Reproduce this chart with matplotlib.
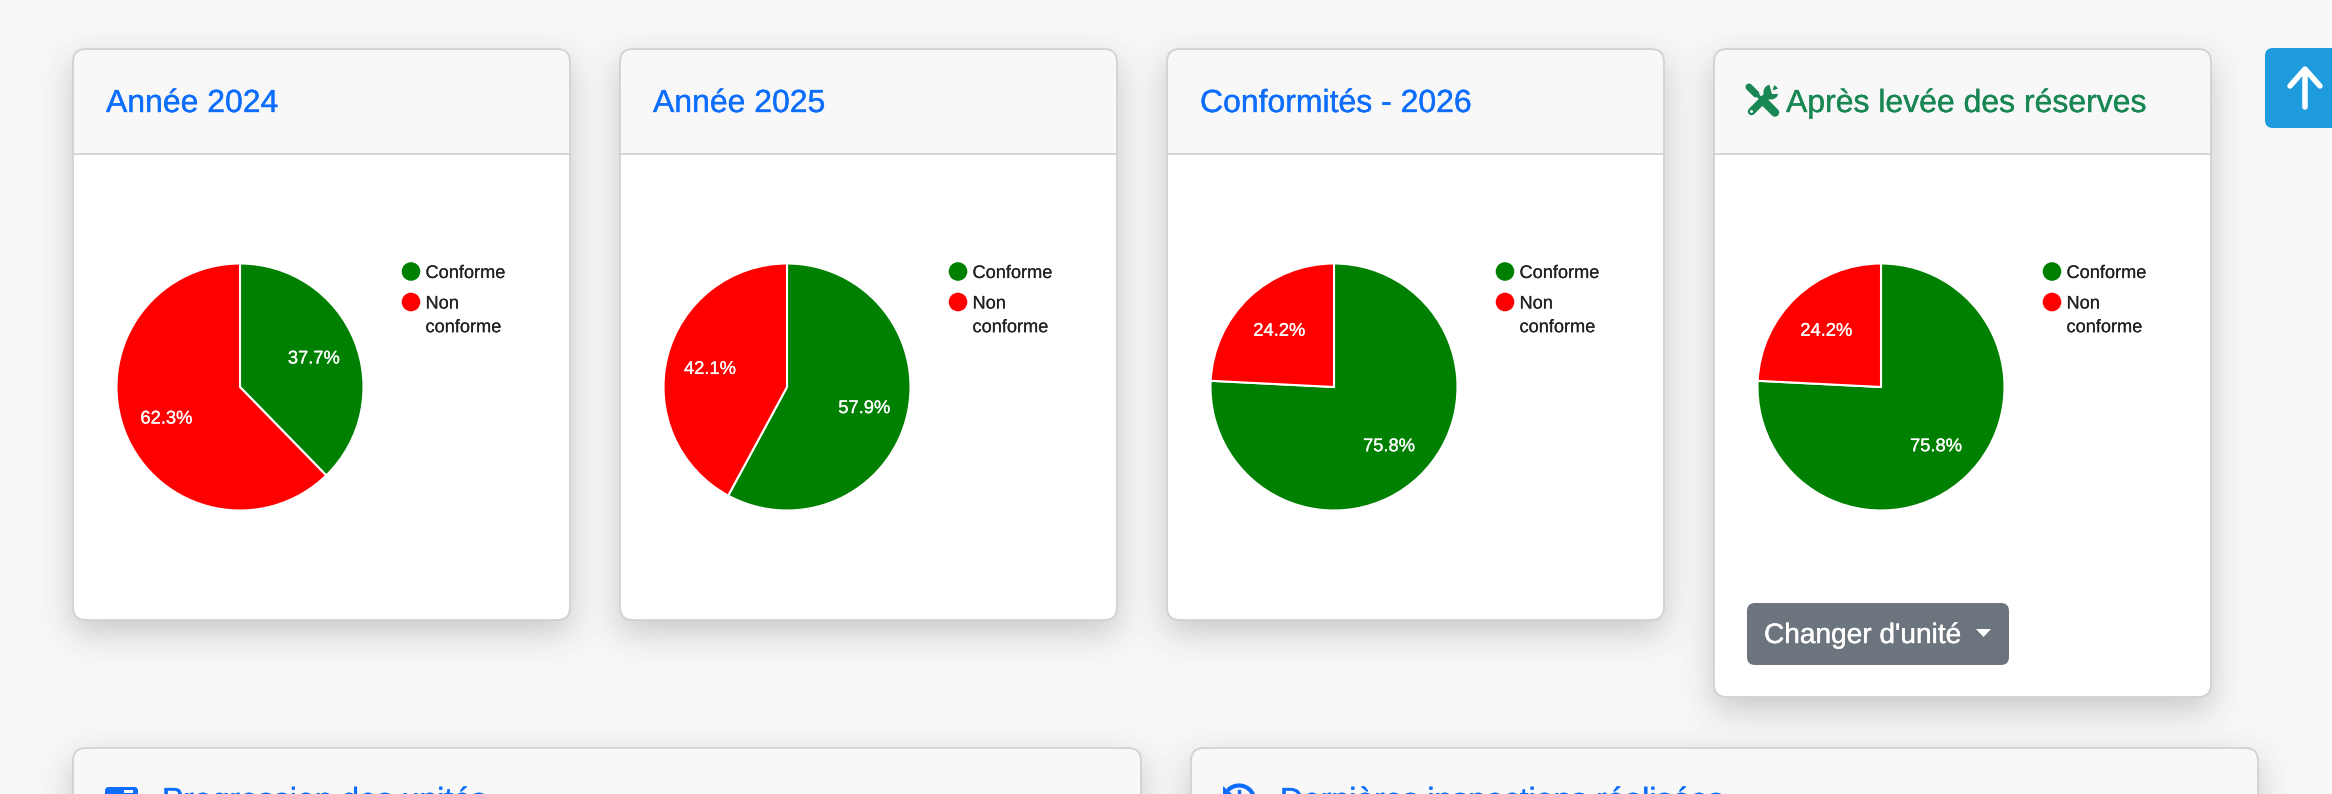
import numpy as np
import matplotlib
matplotlib.use("Agg")
import matplotlib.pyplot as plt
import matplotlib.patheffects as pe
from matplotlib.patches import FancyBboxPatch, Rectangle, Circle, Polygon

plt.rcParams['font.family'] = ['Liberation Sans', 'DejaVu Sans']

# ---- data
card_titles = ["Année 2024", "Année 2025", "Conformités - 2026", "Après levée des réserves"]
conforme_pct = [37.7, 57.9, 75.8, 75.8]
non_conforme_pct = [62.3, 42.1, 24.2, 24.2]
legend_labels = ["Conforme", "Non conforme"]
slice_colors = ["#008000", "#ff0000"]
button_label = "Changer d'unité"
lower_titles = ["Progression des unités", "Dernières inspections réalisées"]

W, H = 2332, 794
BG = 0xf7 / 255
HEAD = "#f8f8f8"
BLUE, GREEN = "#0d6efd", "#198754"
BORDER = "#d2d2d2"

card_lefts = [73, 620, 1167, 1714]
card_w = 497
card_top = 49
card_bottoms = [620, 620, 620, 697]
header_bottom = 154
lower_cards = [(73, 1141), (1191, 2258)]
lower_top = 748

fig = plt.figure(figsize=(W / 100, H / 100), dpi=100)
ax = fig.add_axes([0, 0, 1, 1])
ax.set_xlim(0, W)
ax.set_ylim(H, 0)
ax.axis("off")


def weight(color, w=0.25):
    return [pe.withStroke(linewidth=w, foreground=color)]


def gaussian_blur(a, sigma):
    r = int(3 * sigma)
    k = np.exp(-0.5 * (np.arange(-r, r + 1) / sigma) ** 2)
    k /= k.sum()
    a = np.apply_along_axis(lambda m: np.convolve(m, k, mode="same"), 0, a)
    a = np.apply_along_axis(lambda m: np.convolve(m, k, mode="same"), 1, a)
    return a


# page background with the soft card shadows
pad = 90
mask = np.zeros((H + 2 * pad, W + 2 * pad))
off_y = 12
for x0, b in zip(card_lefts, card_bottoms):
    mask[card_top + off_y + pad:b + off_y + pad, x0 + pad:x0 + card_w + pad] = 1
for x0, x1 in lower_cards:
    mask[lower_top + off_y + pad:, x0 + pad:x1 + pad] = 1
shadow = gaussian_blur(mask, 17)[pad:-pad, pad:-pad] * 0.2
bg_img = np.clip(BG * (1 - shadow), 0, 1)
ax.imshow(bg_img, cmap="gray", vmin=0, vmax=1, extent=(0, W, H, 0), aspect="auto",
          interpolation="bilinear", zorder=0)
ax.set_xlim(0, W)
ax.set_ylim(H, 0)


def card(x0, x1, y0, y1, hdr):
    body = FancyBboxPatch((x0, y0), x1 - x0, y1 - y0, boxstyle="round,pad=0,rounding_size=13",
                          fc="white", ec="none", zorder=1)
    ax.add_patch(body)
    head = Rectangle((x0, y0), x1 - x0, hdr - y0, fc=HEAD, ec="none", zorder=2)
    ax.add_patch(head)
    head.set_clip_path(body)
    ax.plot([x0, x1], [hdr, hdr], color=BORDER, lw=1.3, zorder=3, solid_capstyle="butt")
    ax.add_patch(FancyBboxPatch((x0, y0), x1 - x0, y1 - y0, boxstyle="round,pad=0,rounding_size=13",
                                fc="none", ec=BORDER, lw=1.3, zorder=4))


pie_r = 123.5
pie_cy = 387
for i, x0 in enumerate(card_lefts):
    card(x0, x0 + card_w, card_top, card_bottoms[i], header_bottom)
    title_x = x0 + 33 if i < 3 else x0 + 72
    tcolor = BLUE if i < 3 else GREEN
    ax.text(title_x, 112, card_titles[i], fontsize=23, va="baseline", ha="left",
            color=tcolor, zorder=5, path_effects=weight(tcolor))

    # pie
    cx = x0 + 167
    L = 1.05
    side = pie_r * L
    pax = fig.add_axes([(cx - side) / W, 1 - (pie_cy + side) / H, 2 * side / W, 2 * side / H])
    wedges, texts, autos = pax.pie([conforme_pct[i], non_conforme_pct[i]], colors=slice_colors,
                                   startangle=90, counterclock=False, autopct="%.1f%%",
                                   pctdistance=0.645, normalize=True,
                                   wedgeprops=dict(edgecolor="white", linewidth=1.5),
                                   textprops=dict(color="white", fontsize=13.2))
    for t in autos:
        t.set_va("center_baseline")
        t.set_path_effects(weight("white", 0.2))
    pax.set_xlim(-L, L)
    pax.set_ylim(-L, L)
    pax.axis("off")

    # legend
    lx = x0 + 338
    tx = x0 + 352.5
    ink = "#222222"
    ax.add_patch(Circle((lx, 271.5), 9.3, fc=slice_colors[0], ec="none", zorder=5))
    ax.text(tx, 271.5, legend_labels[0], fontsize=13.1, color=ink, va="center_baseline", zorder=5,
            path_effects=weight(ink, 0.1))
    ax.add_patch(Circle((lx, 302), 9.3, fc=slice_colors[1], ec="none", zorder=5))
    for j, word in enumerate(legend_labels[1].split(" ")):
        ax.text(tx, 302 + 23.7 * j, word, fontsize=13.1, color=ink, va="center_baseline", zorder=5,
                path_effects=weight(ink, 0.1))

# lower cards, cut by the bottom of the page
for x0, x1 in lower_cards:
    card(x0, x1, lower_top, H + 40, H + 30)
ax.text(162, 810, lower_titles[0], fontsize=23, color=BLUE, va="baseline", zorder=5,
        path_effects=weight(BLUE))
ax.text(1280, 810, lower_titles[1], fontsize=23, color=BLUE, va="baseline", zorder=5,
        path_effects=weight(BLUE))
ax.add_patch(FancyBboxPatch((105, 787), 33, 30, boxstyle="round,pad=0,rounding_size=4", fc=BLUE, ec="none", zorder=5))
ax.add_patch(Rectangle((124, 790), 9, 2.5, fc="white", ec="none", zorder=6))
ax.add_patch(Circle((1239, 801), 15.5, fc="none", ec=BLUE, lw=3, zorder=5))
ax.add_patch(Rectangle((1221, 788), 6, 9, fc=HEAD, ec="none", zorder=5.5))
ax.add_patch(Polygon([(1223, 786), (1232, 794), (1223, 798)], fc=BLUE, ec="none", zorder=6))
ax.plot([1239, 1239], [791, 794], color=BLUE, lw=2.4, zorder=6)

# dropdown button
ax.add_patch(FancyBboxPatch((1747, 603), 262, 62, boxstyle="round,pad=0,rounding_size=8",
                            fc="#6c757d", ec="none", zorder=5))
ax.text(1764, 643, button_label, fontsize=20.2, color="white", va="baseline", zorder=6,
        path_effects=weight("white", 0.3))
ax.add_patch(Polygon([(1976, 629), (1991, 629), (1983.5, 637)], fc="white", ec="none", zorder=6))

# tools icon next to the 4th title
px = 0.72
ax.plot([1752, 1776], [90, 113], color=GREEN, lw=3.5 * px, solid_capstyle="butt", zorder=6)
ax.plot([1749, 1756], [87, 94], color=GREEN, lw=7 * px, solid_capstyle="round", zorder=6)
ax.plot([1765, 1775], [102.5, 112.5], color=GREEN, lw=8.5 * px, solid_capstyle="round", zorder=6)
ax.plot([1751.5, 1770], [111.5, 93], color=GREEN, lw=7.5 * px, solid_capstyle="round", zorder=6)
ax.add_patch(Circle((1771, 92), 7.5, fc=GREEN, ec="none", zorder=6))
ax.add_patch(Polygon([(1769, 83), (1775, 83), (1772.5, 90.5), (1780, 88), (1781, 94), (1772, 94)],
                     fc=HEAD, ec="none", zorder=6.5))
ax.add_patch(Circle((1751.5, 111.5), 1.5, fc=HEAD, ec="none", zorder=6.5))

# scroll-to-top button
ax.add_patch(FancyBboxPatch((2265, 48), 120, 80, boxstyle="round,pad=0,rounding_size=8",
                            fc="#1e9bdc", ec="none", zorder=5))
ax.plot([2305, 2305], [70, 107], color="white", lw=5.5 * px, solid_capstyle="round", zorder=6)
ax.plot([2290, 2305, 2320], [86, 69, 86], color="white", lw=5.5 * px, solid_capstyle="round",
        solid_joinstyle="round", zorder=6)

fig.savefig("out.png", dpi=100)
